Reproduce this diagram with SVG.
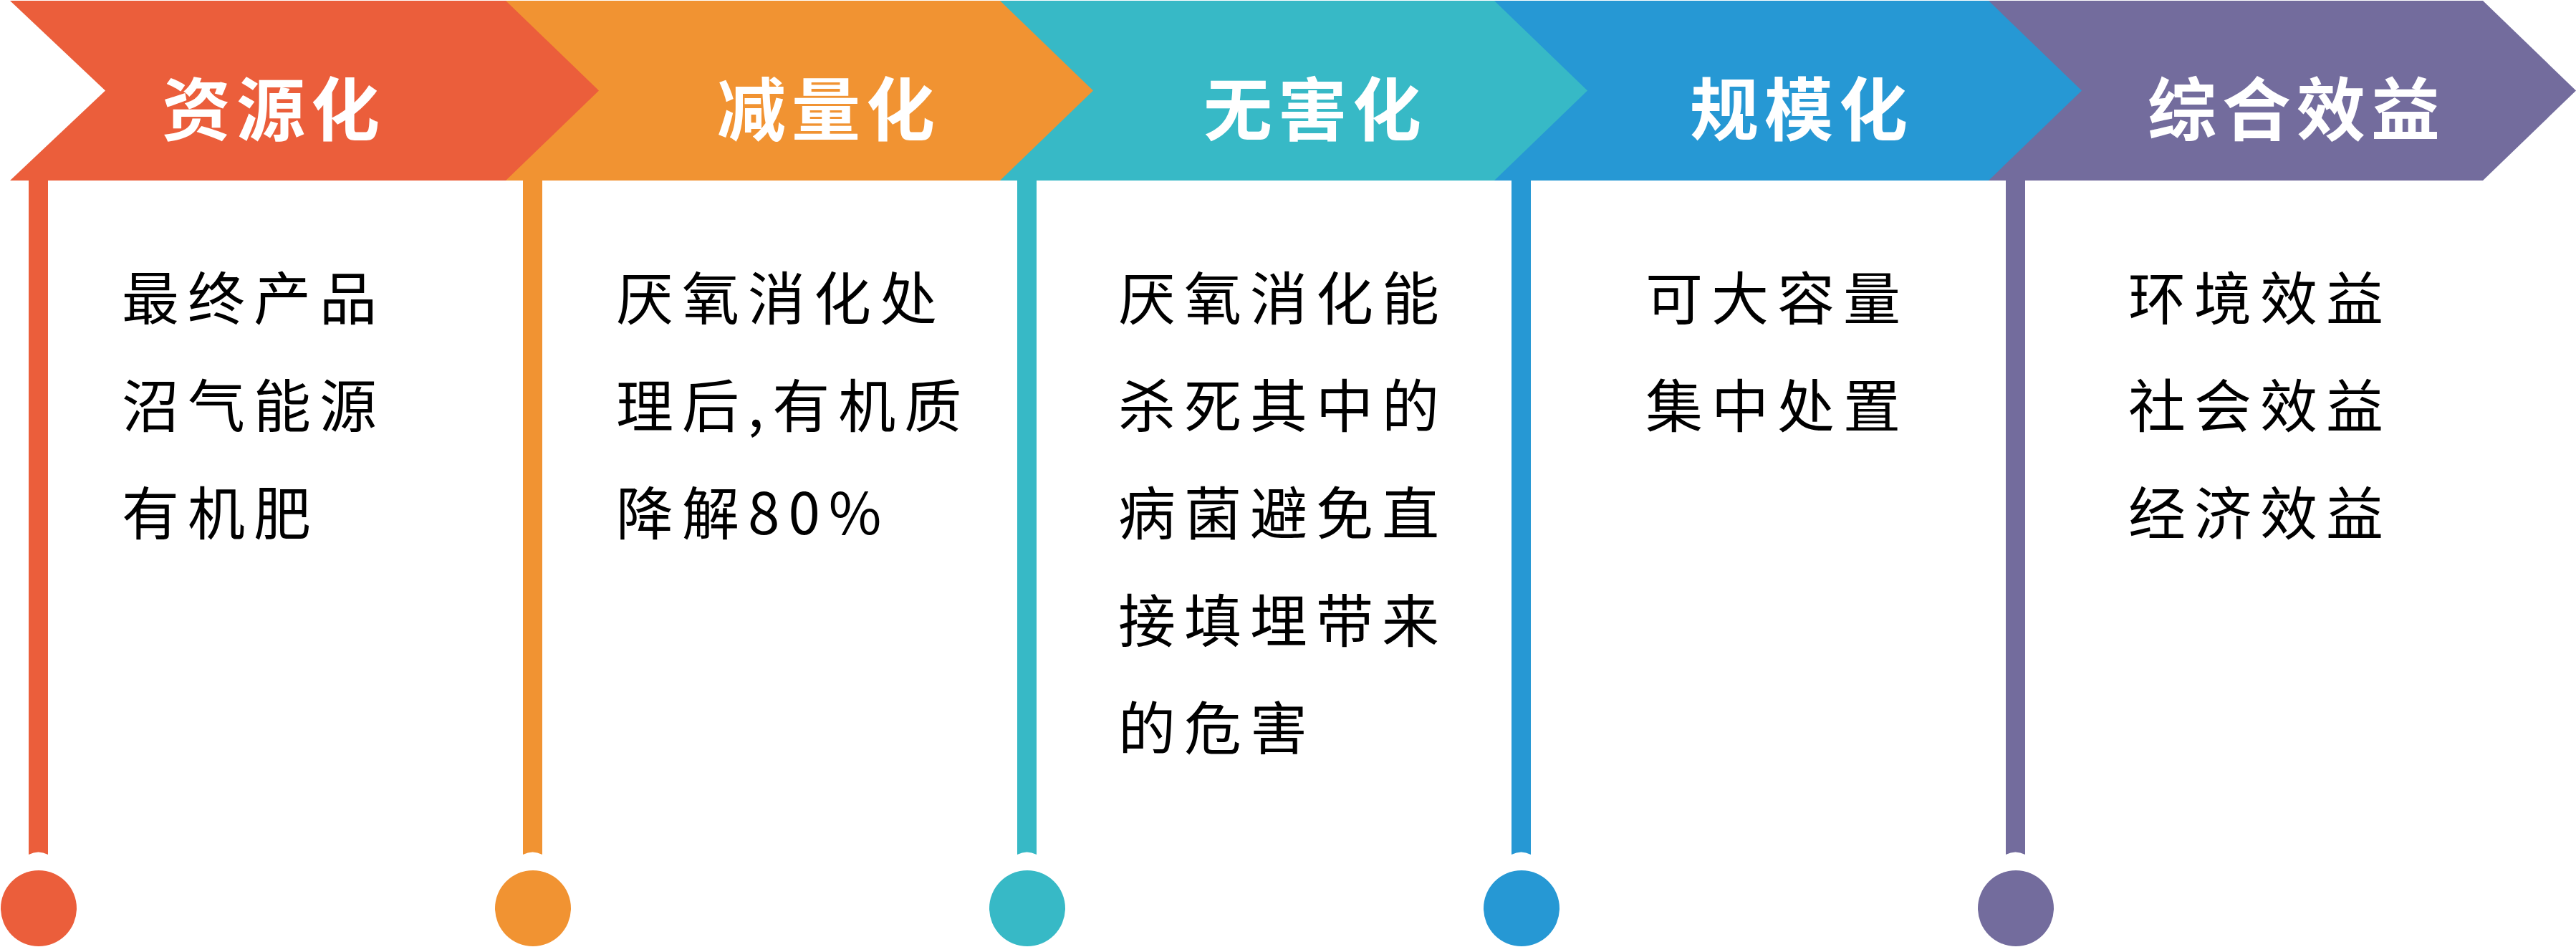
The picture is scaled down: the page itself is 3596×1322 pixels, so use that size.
<svg xmlns="http://www.w3.org/2000/svg" width="3596" height="1322" viewBox="0 0 3596 1322">
<style>
.t{font-family:"Noto Sans CJK SC","Noto Sans",sans-serif;font-weight:700;font-size:96px;fill:#fff;letter-spacing:8px}
.b{font-family:"Noto Sans CJK SC","Noto Sans",sans-serif;font-weight:400;font-size:80px;fill:#000;letter-spacing:12px}
.c1{fill:#EB5E3B}.c2{fill:#F19332}.c3{fill:#37B9C6}.c4{fill:#2698D4}.c5{fill:#736C9D}
</style>
<rect width="3596" height="1322" fill="#fff"/>
<g id="connectors">
<path class="c1" d="M40,252H67V1193Q53.5,1186 40,1193Z"/>
<path class="c2" d="M730,252H757V1193Q743.5,1186 730,1193Z"/>
<path class="c3" d="M1420,252H1447V1193Q1433.5,1186 1420,1193Z"/>
<path class="c4" d="M2110,252H2137V1193Q2123.5,1186 2110,1193Z"/>
<path class="c5" d="M2800,252H2827V1193Q2813.5,1186 2800,1193Z"/>
</g>
<g id="node5">
<polygon class="c5" points="2774,1 3466,1 3596,126.5 3466,252 2774,252"/>
<text class="t" x="2998" y="188">综合效益</text>
<circle class="c5" cx="2814" cy="1268" r="53"/>
<text class="b" x="2971" y="446">环境效益</text>
<text class="b" x="2971" y="596">社会效益</text>
<text class="b" x="2971" y="746">经济效益</text>
</g>
<g id="node4">
<polygon class="c4" points="2084,1 2776,1 2906,126.5 2776,252 2084,252"/>
<text class="t" x="2359" y="188">规模化</text>
<circle class="c4" cx="2124" cy="1268" r="53"/>
<text class="b" x="2297" y="446">可大容量</text>
<text class="b" x="2297" y="596">集中处置</text>
</g>
<g id="node3">
<polygon class="c3" points="1394,1 2086,1 2216,126.5 2086,252 1394,252"/>
<text class="t" x="1680" y="188">无害化</text>
<circle class="c3" cx="1434" cy="1268" r="53"/>
<text class="b" x="1561" y="446">厌氧消化能</text>
<text class="b" x="1561" y="596">杀死其中的</text>
<text class="b" x="1561" y="746">病菌避免直</text>
<text class="b" x="1561" y="896">接填埋带来</text>
<text class="b" x="1561" y="1046">的危害</text>
</g>
<g id="node2">
<polygon class="c2" points="704,1 1396,1 1526,126.5 1396,252 704,252"/>
<text class="t" x="1001" y="188">减量化</text>
<circle class="c2" cx="744" cy="1268" r="53"/>
<text class="b" x="860" y="446">厌氧消化处</text>
<text class="b" x="860" y="596">理后,有机质</text>
<text class="b" x="860" y="746">降解80%</text>
</g>
<g id="node1">
<polygon class="c1" points="14,1 706,1 836,126.5 706,252 14,252 147,126.5"/>
<text class="t" x="226" y="188">资源化</text>
<circle class="c1" cx="54" cy="1268" r="53"/>
<text class="b" x="170" y="446">最终产品</text>
<text class="b" x="170" y="596">沼气能源</text>
<text class="b" x="170" y="746">有机肥</text>
</g>
</svg>
